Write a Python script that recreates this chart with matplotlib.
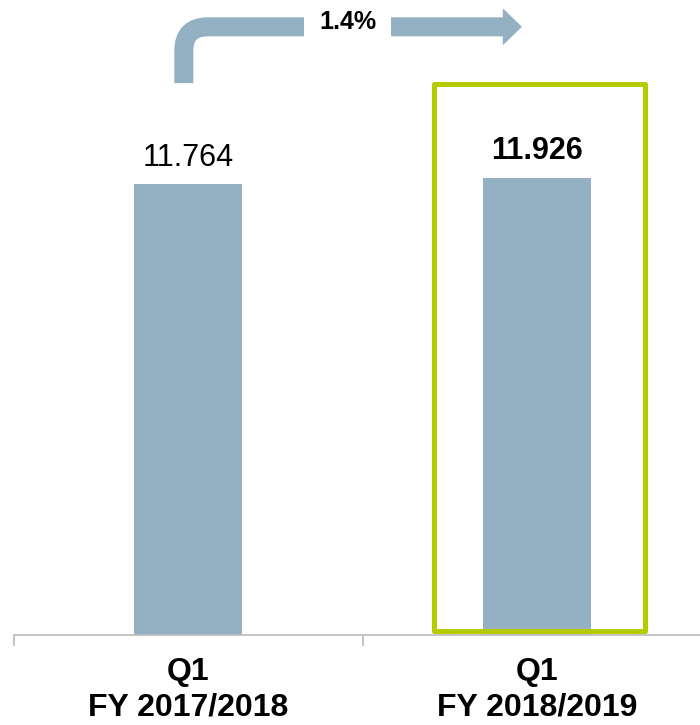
import matplotlib.pyplot as plt
from matplotlib.path import Path
from matplotlib.patches import PathPatch, Polygon, Rectangle

# quarterly values
quarters = ["Q1\nFY 2017/2018", "Q1\nFY 2018/2019"]
values = [11.764, 11.926]
value_labels = ["11.764", "11.926"]
growth_label = "1.4%"

BAR_COLOR = "#93b1c2"
GREEN = "#b5cb00"
AXIS_GRAY = "#bfbfbf"

plt.rcParams["font.family"] = ["Liberation Sans", "DejaVu Sans"]

fig = plt.figure(figsize=(7, 7.25), dpi=100)
ax = fig.add_axes([13.5 / 700, 90 / 725, 698 / 700, 635 / 725])
ax.set_xlim(-0.5, 1.5)
ax.set_ylim(0, 16.57)

x = list(range(len(values)))
ax.bar(x, values, width=0.31, color=BAR_COLOR, zorder=2)

# value labels, the current quarter in bold
for i, (v, lab) in enumerate(zip(values, value_labels)):
    ax.text(i, v + 0.3, lab, ha="center", va="bottom", fontsize=22,
            fontweight="bold" if i == 1 else "normal", color="black")

# highlight frame around the current quarter
ax.add_patch(Rectangle((0.705, 0.1), 0.605, 14.28, fill=False,
                       edgecolor=GREEN, linewidth=3.6, joinstyle="round",
                       zorder=3, clip_on=False))

# elbow arrow from the previous quarter to the current one
px_x, px_y = 349.0, 635 / 16.57
x0 = -0.012
y0 = 14.4
ys = 15.87
r = 24
xe = 0.903
tip = 0.957
verts = [(x0, y0), (x0, ys - r / px_y), (x0, ys), (x0 + r / px_x, ys), (xe, ys)]
codes = [Path.MOVETO, Path.LINETO, Path.CURVE3, Path.CURVE3, Path.LINETO]
ax.add_patch(PathPatch(Path(verts, codes), facecolor="none",
                       edgecolor=BAR_COLOR, linewidth=13.7, capstyle="butt",
                       joinstyle="miter", clip_on=False, zorder=3))
hh = 18.5 / px_y
ax.add_patch(Polygon([(xe - 0.001, ys - hh), (tip, ys), (xe - 0.001, ys + hh)],
                     closed=True, facecolor=BAR_COLOR, edgecolor="none",
                     clip_on=False, zorder=3))
ax.text(0.458, 16.0, growth_label, ha="center", va="center", fontsize=18,
        fontweight="bold", zorder=4,
        bbox=dict(boxstyle="square,pad=0.6", facecolor="white", edgecolor="none"))

# axes styling
for side in ["top", "right", "left"]:
    ax.spines[side].set_visible(False)
ax.spines["bottom"].set_color(AXIS_GRAY)
ax.spines["bottom"].set_linewidth(1.3)
ax.set_yticks([])
ax.set_xticks(x)
ax.set_xticklabels(quarters, fontsize=23, fontweight="bold",
                   family=["Liberation Sans Narrow", "Liberation Sans"],
                   linespacing=1.25)
ax.tick_params(axis="x", which="major", length=0, pad=16)
ax.set_xticks([-0.5, 0.5, 1.5], minor=True)
ax.tick_params(axis="x", which="minor", length=8, width=1.3, color=AXIS_GRAY,
               direction="out")

fig.savefig("out.png", dpi=100)
